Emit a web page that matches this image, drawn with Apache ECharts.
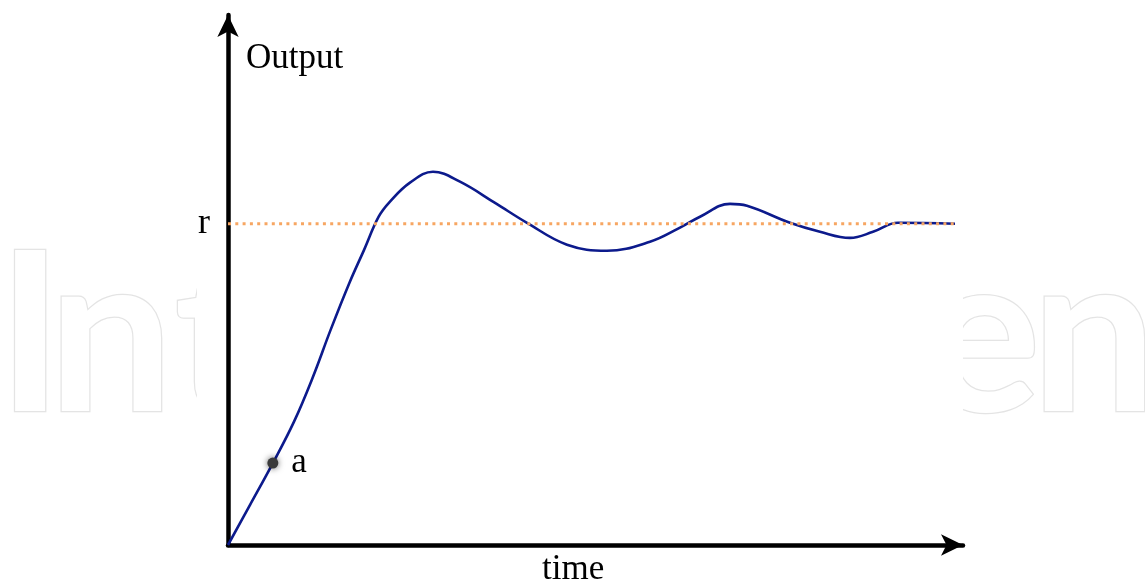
<!DOCTYPE html>
<html><head><meta charset="utf-8">
<script src="https://cdn.jsdelivr.net/npm/echarts@6/dist/echarts.min.js"></script>
<style>html,body{margin:0;padding:0;background:#fff}#c{width:1145px;height:582px}</style>
</head><body><div id="c"></div>
<script>
// response curve (time, output); r = 1
const time   = [0, 0.30, 0.61, 0.90, 1.15, 1.40, 1.65, 1.85, 2.05, 2.204, 2.476, 2.789, 3.156, 3.633, 4.068, 4.612, 5.156, 5.741, 6.150, 6.422, 6.830, 7.061, 7.646, 8.054, 8.463, 8.776, 9.116, 9.891];
const output = [0, 0.125, 0.255, 0.385, 0.52, 0.672, 0.815, 0.918, 1.022, 1.069, 1.128, 1.162, 1.131, 1.065, 1.003, 0.935, 0.916, 0.944, 0.988, 1.022, 1.062, 1.056, 1.003, 0.975, 0.956, 0.975, 1.003, 1.0];
const rValue = 1;
const rSpan = [0, 9.891];
const pointA = [0.61, 0.255];
const xMax = 10, yMax = 1.65;

const chart = echarts.init(document.getElementById('c'));
const serif = '"Liberation Serif","DejaVu Serif",serif';
const wm = {font: 'bold 222px Lato', fill: '#fff', stroke: '#e4e4e4', lineWidth: 2.5};
chart.setOption({
  animation: false,
  backgroundColor: '#fff',
  grid: {left: 228, right: 182, top: 15, bottom: 37},
  xAxis: {type: 'value', min: 0, max: xMax,
    axisLine: {show: true, lineStyle: {color: '#000', width: 4.5}, symbol: ['none', 'arrow'], symbolSize: [16, 22]},
    axisTick: {show: false}, axisLabel: {show: false}, splitLine: {show: false}},
  yAxis: {type: 'value', min: 0, max: yMax,
    axisLine: {show: true, lineStyle: {color: '#000', width: 4.5}, symbol: ['none', 'arrow'], symbolSize: [16, 22]},
    axisTick: {show: false}, splitLine: {show: false},
    axisLabel: {show: true, customValues: [rValue], formatter: () => 'r', margin: 18,
      fontFamily: serif, fontSize: 36, color: '#000'}},
  graphic: [
    {type: 'text', z: -20, left: -4, top: 227, style: Object.assign({text: 'I'}, wm)},
    {type: 'text', z: -20, left: 47, top: 227, style: Object.assign({text: 'n'}, wm)},
    {type: 'text', z: -20, left: 173, top: 227, style: Object.assign({text: 't'}, wm)},
    {type: 'text', z: -20, left: 921, top: 227, style: Object.assign({text: 'e'}, wm)},
    {type: 'text', z: -20, left: 1030, top: 227, style: Object.assign({text: 'n'}, wm)},
    {type: 'rect', z: -10, shape: {x: 197, y: 0, width: 766, height: 582}, style: {fill: '#fff'}},
    {type: 'text', left: 246, top: 41, style: {text: 'Output', font: '35px ' + serif, fill: '#000'}},
    {type: 'text', left: 542, top: 552, style: {text: 'time', font: '35px ' + serif, fill: '#000'}}
  ],
  series: [
    {type: 'line', data: time.map((t, i) => [t, output[i]]), smooth: 0.4, showSymbol: false,
      lineStyle: {color: '#0c1a8c', width: 2.6}, z: 3},
    {type: 'line', data: rSpan.map(t => [t, rValue]), showSymbol: false,
      lineStyle: {color: '#f7a662', width: 3, type: [3, 4.3]}, z: 4},
    {type: 'scatter', data: [pointA], symbolSize: 11,
      itemStyle: {color: '#3a3a3a', opacity: 1, shadowBlur: 6, shadowColor: 'rgba(0,0,0,0.6)'},
      label: {show: true, position: 'right', distance: 13, formatter: 'a', fontFamily: serif, fontSize: 35, color: '#000'}, z: 5}
  ]
});
</script></body></html>
